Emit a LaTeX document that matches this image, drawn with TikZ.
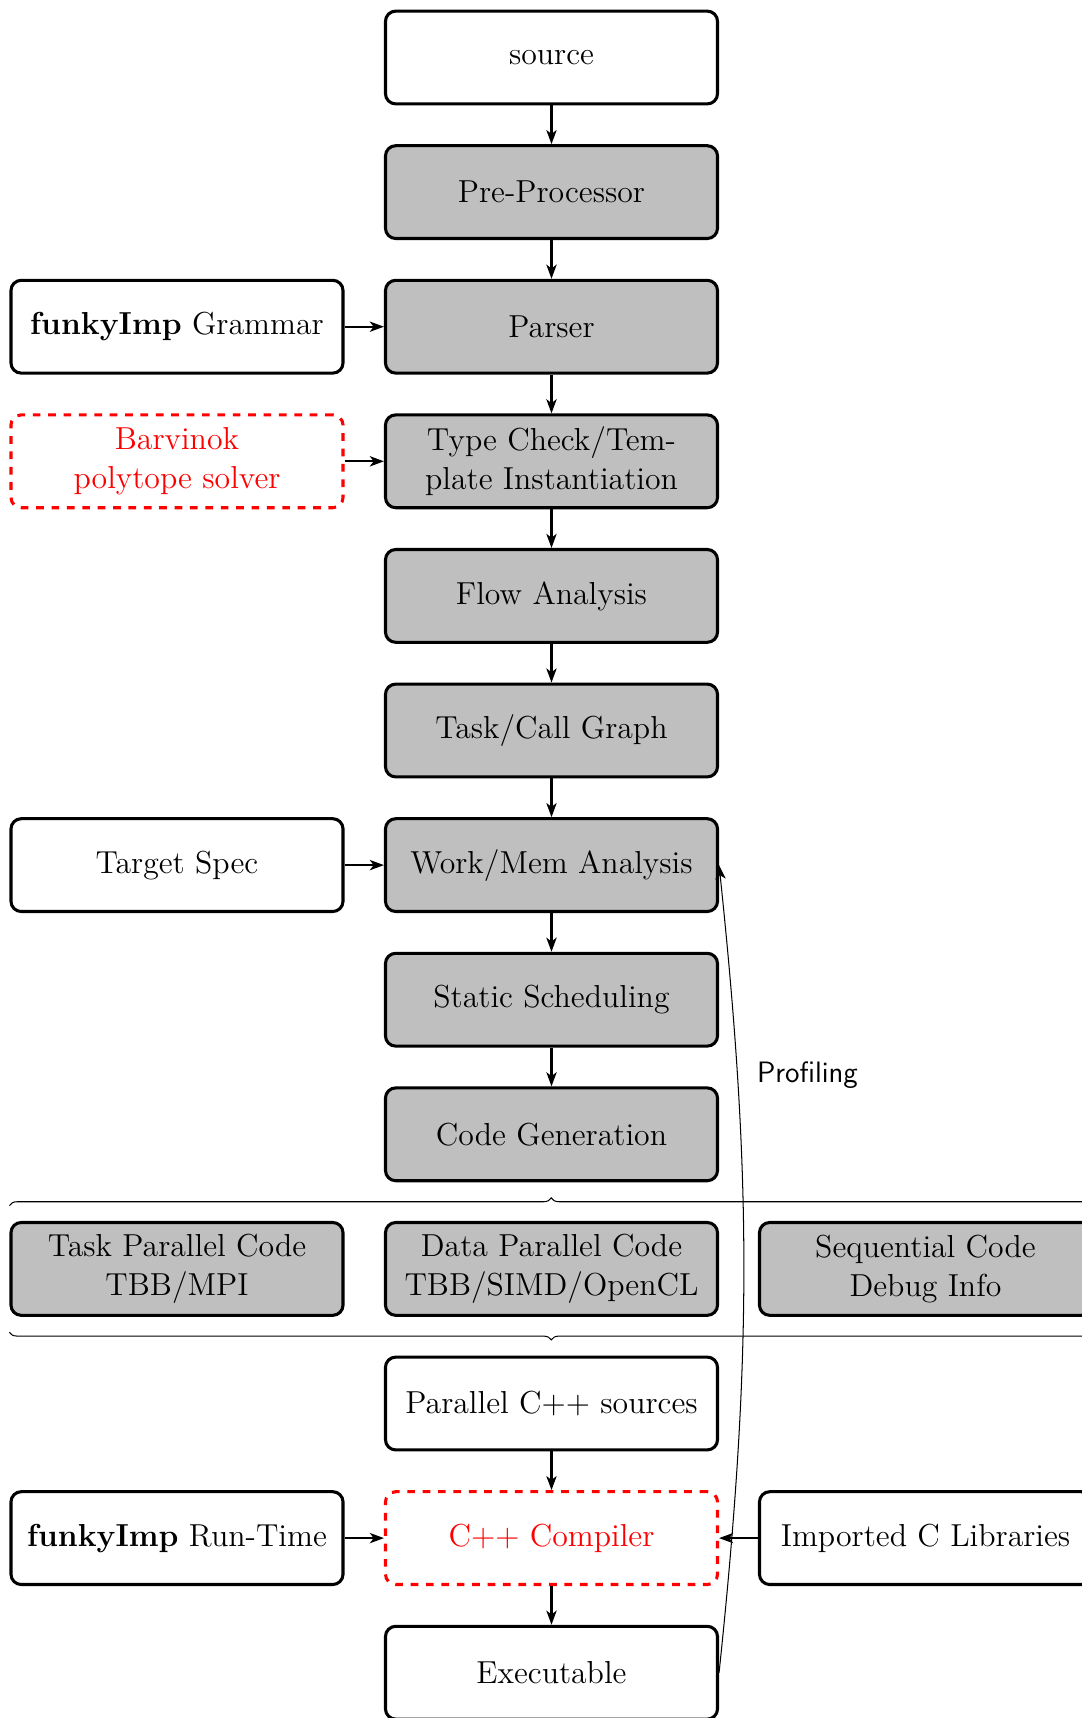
\documentclass[12pt,tikz,border=0pt]{standalone}
\usetikzlibrary{arrows.meta,decorations.pathreplacing}
\begin{document}
\begin{tikzpicture}[x=0.39pt,y=-0.39pt,
  every node/.style={font=\fontsize{12.4}{15}\selectfont},
  box/.style={draw, very thick, rounded corners=4pt, minimum width=129.5pt,
    minimum height=36.2pt, align=center, inner sep=2pt},
  stage/.style={box, fill=lightgray},
  ext/.style={box, red, dashed, text=red},
  flow/.style={thick, -{Stealth[length=5.5pt,width=4pt,inset=1.5pt]}},
  feedback/.style={thin, -{Stealth[length=5.5pt,width=4pt,inset=1.5pt]}},
  grp/.style={thin, decorate, decoration={brace, amplitude=3pt}}]
\useasboundingbox (0,0) rectangle (1082,1718);

% main pipeline (centre column)
\node[box]   (src)    at (551.5,57.5)   {source};
\node[stage] (pre)    at (551.5,192.1)  {Pre-Processor};
\node[stage] (parse)  at (551.5,326.7)  {Parser};
\node[stage] (tcheck) at (551.5,461.3)  {Type Check/Tem-\\plate Instantiation};
\node[stage] (flowa)  at (551.5,595.9)  {Flow Analysis};
\node[stage] (graph)  at (551.5,730.5)  {Task/Call Graph};
\node[stage] (work)   at (551.5,865.1)  {Work/Mem Analysis};
\node[stage] (sched)  at (551.5,999.7)  {Static Scheduling};
\node[stage] (cgen)   at (551.5,1134.3) {Code Generation};

% generated code variants
\node[stage] (tpc) at (177,1268.9)   {Task Parallel Code\\TBB/MPI};
\node[stage] (dpc) at (551.5,1268.9) {Data Parallel Code\\TBB/SIMD/OpenCL};
\node[stage] (seq) at (925.5,1268.9) {Sequential Code\\Debug Info};

\node[box] (cpps) at (551.5,1403.5) {Parallel C++ sources};
\node[ext] (cxx)  at (551.5,1538.1) {C++ Compiler};
\node[box] (exe)  at (551.5,1672.7) {Executable};

% side inputs
\node[box] (gram)   at (177,326.7)  {\textbf{funkyImp} Grammar};
\node[ext] (barv)   at (177,461.3)  {Barvinok\\polytope solver};
\node[box] (target) at (177,865.1)  {Target Spec};
\node[box] (rt)     at (177,1538.1) {\textbf{funkyImp} Run-Time};
\node[box] (clib)   at (925.5,1538.1) {Imported C Libraries};

% pipeline arrows
\draw[flow] (src) -- (pre);
\draw[flow] (pre) -- (parse);
\draw[flow] (parse) -- (tcheck);
\draw[flow] (tcheck) -- (flowa);
\draw[flow] (flowa) -- (graph);
\draw[flow] (graph) -- (work);
\draw[flow] (work) -- (sched);
\draw[flow] (sched) -- (cgen);
\draw[flow] (cpps) -- (cxx);
\draw[flow] (cxx) -- (exe);

\draw[flow] (gram) -- (parse);
\draw[flow] (barv) -- (tcheck);
\draw[flow] (target) -- (work);
\draw[flow] (rt) -- (cxx);
\draw[flow] (clib) -- (cxx);

% braces grouping the code variants
\draw[grp] ([yshift=6pt]tpc.north west) -- ([yshift=6pt]seq.north east);
\draw[grp] ([yshift=-6pt]seq.south east) -- ([yshift=-6pt]tpc.south west);

% profiling feedback
\draw[feedback] (exe.east) to[bend right=6]
  node[pos=0.756, right, xshift=3.5pt, font=\fontsize{11.5}{14}\sffamily] {Profiling} (work.east);
\end{tikzpicture}
\end{document}
